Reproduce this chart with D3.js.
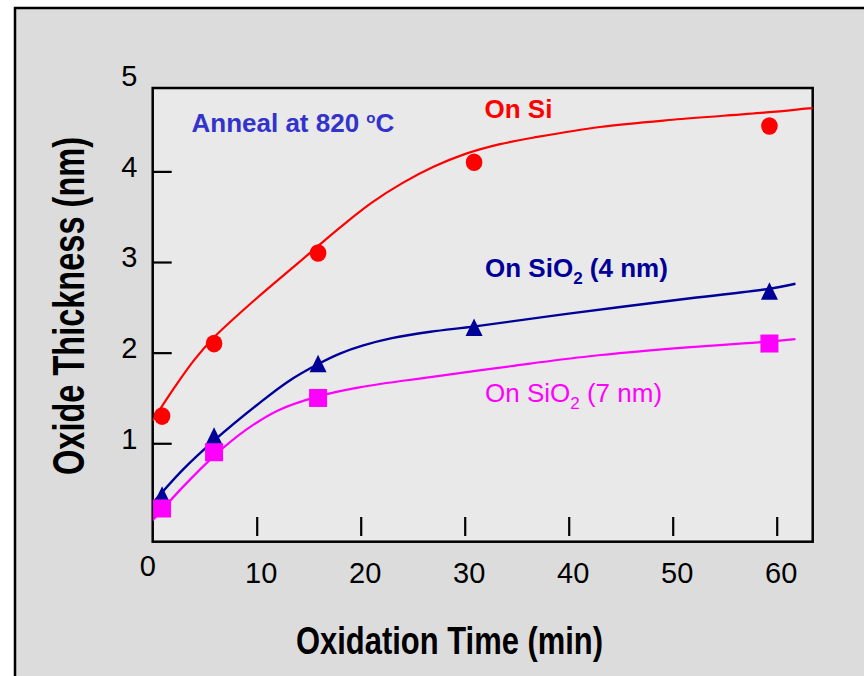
<!DOCTYPE html>
<html>
<head>
<meta charset="utf-8">
<script src="https://cdn.jsdelivr.net/npm/d3@7"></script>
<style>
	body{margin:0;background:#fff;}
	svg{display:block;}
</style>
</head>
<body>
<div id="chart"></div>
<script>
// measured points
var times=[0.9,5.9,15.9,30.9,59.3]
var onSi=[1.3,2.1,3.1,4.1,4.5]
var onSiO2_4=[0.43,1.08,1.88,2.28,2.68]
var times7=[0.9,5.9,15.9,59.3]
var onSiO2_7=[0.28,0.9,1.5,2.1]

// fitted curves
var siFitT=[0,2,4,6,10,14,18,21,24,27,30,33.4,37,43,50,59,63.5]
var siFitV=[1.25,1.6,1.92,2.18,2.6,2.99,3.38,3.65,3.87,4.05,4.19,4.3,4.38,4.49,4.57,4.65,4.7]
var fit4T=[0,3,6,10,13,16,18,20.25,23,26.7,31,40,51.7,59,61.8]
var fit4V=[0.34,0.72,1.04,1.42,1.68,1.88,1.99,2.08,2.16,2.23,2.29,2.43,2.6,2.7,2.76]
var fit7T=[0,3,6,9,12,16,20,26.7,34.4,42,51.7,59,61.8]
var fit7V=[0.15,0.53,0.87,1.15,1.36,1.52,1.62,1.73,1.85,1.96,2.06,2.12,2.15]

var xTicks=[10,20,30,40,50,60]
var yTicks=[1,2,3,4,5]

var W=864,H=676
var plot={left:152.7,right:812.7,top:88,bottom:541.7}
var font="'Liberation Sans',Arial,sans-serif"

var svg=d3.select("#chart").append("svg")
	.attr("width",W)
	.attr("height",H)

// outer panel
svg.append("rect")
	.attr("x",15).attr("y",8)
	.attr("width",W+20).attr("height",H+20)
	.attr("fill","#dcdcdc")
	.attr("stroke","#000")
	.attr("stroke-width",2.5)

var xScale=d3.scaleLinear()
	.domain([0,63.46])
	.range([plot.left,plot.right])
var yScale=d3.scaleLinear()
	.domain([-0.086,4.92])
	.range([plot.bottom,plot.top])

// plot area
svg.append("rect")
	.attr("x",plot.left).attr("y",plot.top)
	.attr("width",plot.right-plot.left)
	.attr("height",plot.bottom-plot.top)
	.attr("fill","#e9e9e9")

svg.append("clipPath").attr("id","clip")
	.append("rect")
	.attr("x",plot.left).attr("y",plot.top)
	.attr("width",plot.right-plot.left)
	.attr("height",plot.bottom-plot.top)

// y axis, ticks pointing inwards
var yAxis=svg.append("g")
	.attr("transform","translate("+plot.left+",0)")
	.call(d3.axisLeft(yScale).tickValues(yTicks).tickFormat(d3.format("d"))
		.tickSizeInner(-19).tickSizeOuter(0).tickPadding(15.4))
yAxis.select(".domain").remove()
yAxis.selectAll(".tick line").attr("stroke-width",2.2)
yAxis.selectAll(".tick text").attr("dy","0.17em")
	.style("font-family",font).style("font-size","29px")
yAxis.selectAll(".tick").filter(function(d){return d==5}).select("line").remove()

// x axis, ticks float just above the bottom edge
var xAxis=svg.append("g")
	.attr("transform","translate(0,536)")
	.call(d3.axisBottom(xScale).tickValues(xTicks).tickFormat(d3.format("d"))
		.tickSizeInner(-19).tickSizeOuter(0).tickPadding(26.4))
xAxis.select(".domain").remove()
xAxis.selectAll(".tick line").attr("stroke-width",2.2)
xAxis.selectAll(".tick text").attr("dx",4)
	.style("font-family",font).style("font-size","29px")

svg.append("text")
	.attr("x",xScale(0)-5).attr("y",576)
	.attr("text-anchor","middle")
	.style("font-family",font)
	.style("font-size","29px")
	.text("0")

// frame of the plot
svg.append("rect")
	.attr("x",plot.left).attr("y",plot.top)
	.attr("width",plot.right-plot.left)
	.attr("height",plot.bottom-plot.top)
	.attr("fill","none")
	.attr("stroke","#000")
	.attr("stroke-width",2.5)

// axis titles
svg.append("text")
	.attr("x",449.5).attr("y",654)
	.attr("text-anchor","middle")
	.attr("textLength",307)
	.attr("lengthAdjust","spacingAndGlyphs")
	.style("font-family","'Liberation Sans Narrow','Arial Narrow','Liberation Sans',sans-serif")
	.style("font-weight","bold")
	.style("font-size","38px")
	.text("Oxidation Time (min)")

svg.append("text")
	.attr("transform","translate(84,306) rotate(-90)")
	.attr("text-anchor","middle")
	.attr("textLength",338)
	.attr("lengthAdjust","spacingAndGlyphs")
	.style("font-family","'Liberation Sans Narrow','Arial Narrow','Liberation Sans',sans-serif")
	.style("font-weight","bold")
	.style("font-size","44px")
	.text("Oxide Thickness (nm)")

// curves
var line=d3.line()
	.x(function(d){return xScale(d[0])})
	.y(function(d){return yScale(d[1])})
	.curve(d3.curveCatmullRom.alpha(0.5))

var curves=[
	{t:siFitT,v:siFitV,c:"#ff0000",w:2.2},
	{t:fit4T,v:fit4V,c:"#000099",w:2.4},
	{t:fit7T,v:fit7V,c:"#ff00ff",w:2.2}
]
var g=svg.append("g").attr("clip-path","url(#clip)")
curves.forEach(function(c){
	g.append("path")
		.datum(d3.zip(c.t,c.v))
		.attr("d",line)
		.attr("fill","none")
		.attr("stroke",c.c)
		.attr("stroke-width",c.w)
})

// markers
g.selectAll(".si")
	.data(d3.zip(times,onSi))
	.enter().append("ellipse")
	.attr("cx",function(d){return xScale(d[0])})
	.attr("cy",function(d){return yScale(d[1])})
	.attr("rx",8.3).attr("ry",8.8)
	.attr("fill","#ff0000")

g.selectAll(".tri")
	.data(d3.zip(times,onSiO2_4))
	.enter().append("path")
	.attr("d","M0,-8.7L8.5,8.7L-8.5,8.7Z")
	.attr("transform",function(d){return "translate("+xScale(d[0])+","+yScale(d[1])+")"})
	.attr("fill","#000099")

g.selectAll(".sq")
	.data(d3.zip(times7,onSiO2_7))
	.enter().append("path")
	.attr("d",d3.symbol(d3.symbolSquare).size(18*18))
	.attr("transform",function(d){return "translate("+xScale(d[0])+","+yScale(d[1])+")"})
	.attr("fill","#ff00ff")

// labels
var ann=svg.append("text")
	.attr("x",191.5).attr("y",131.7)
	.style("font-family",font).style("font-size","26px").style("font-weight","bold")
	.attr("fill","#3333cc")
ann.append("tspan").text("Anneal at 820 ")
ann.append("tspan").attr("dy",-9).style("font-size","15px").text("o")
ann.append("tspan").attr("dy",9).text("C")

svg.append("text")
	.attr("x",484.5).attr("y",117.5)
	.style("font-family",font).style("font-size","26px").style("font-weight","bold")
	.attr("fill","#ff0000")
	.text("On Si")

function subLabel(x,y,color,weight,rest){
	var t=svg.append("text")
		.attr("x",x).attr("y",y)
		.style("font-family",font).style("font-size","26px").style("font-weight",weight)
		.attr("fill",color)
	t.append("tspan").text("On SiO")
	t.append("tspan").attr("dy",7).style("font-size","17px").text("2")
	t.append("tspan").attr("dy",-7).text(rest)
}
subLabel(485,276.7,"#000099","bold"," (4 nm)")
subLabel(485,401.7,"#ff00ff","normal"," (7 nm)")
</script>
</body>
</html>
